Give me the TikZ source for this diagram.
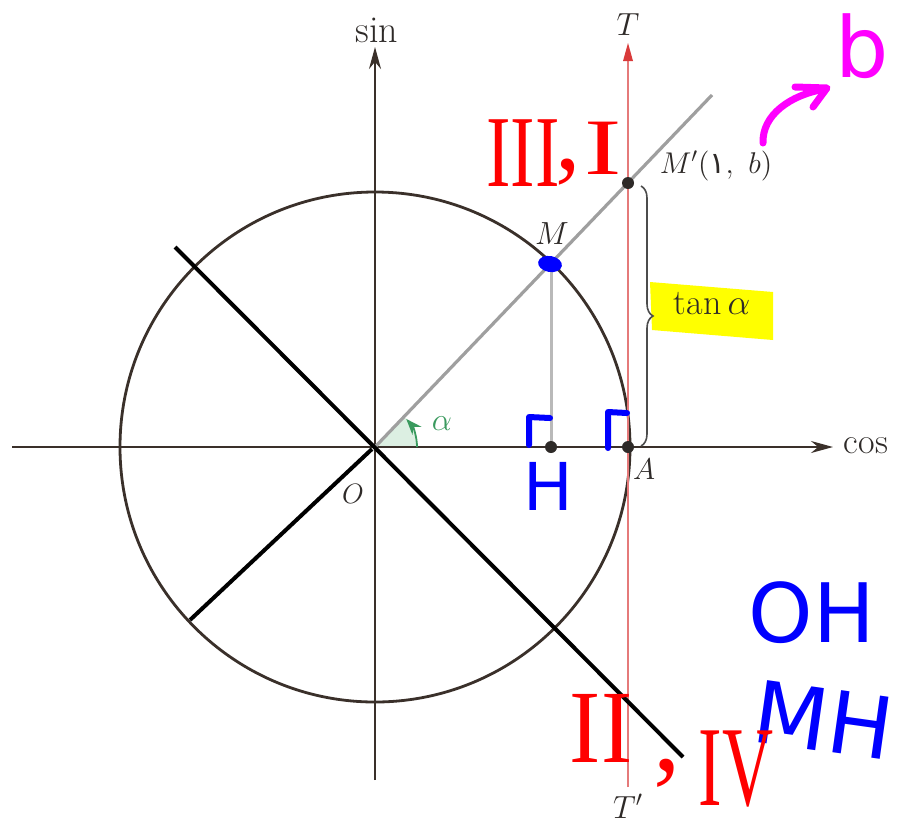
\RequirePackage{fix-cm}
\documentclass[tikz,border=0pt]{standalone}
\usepackage{fontspec}
\usetikzlibrary{arrows.meta,decorations.pathreplacing}
\newfontfamily\handsans{DejaVu Sans}
\newfontfamily\handserif{Liberation Serif}
\newfontfamily\arabicfont[Script=Arabic]{DejaVu Sans}
\definecolor{axiscol}{HTML}{3A302A}
\definecolor{labelcol}{HTML}{2E2A28}
\definecolor{tanred}{HTML}{E57A7A}
\definecolor{tanarrow}{HTML}{D93A3A}
\definecolor{anggreen}{HTML}{3A9A5E}
\definecolor{angfill}{HTML}{DCEFE2}
\definecolor{markblue}{HTML}{0000FF}
\definecolor{markred}{HTML}{FF0000}
\definecolor{markpink}{HTML}{FF00FF}
\definecolor{hiyellow}{HTML}{FFFF00}
\begin{document}
\begin{tikzpicture}[x=0.5pt,y=-0.5pt,
  axisline/.style={draw=axiscol,line width=1pt},
  lbl/.style={text=labelcol,inner sep=0pt},
  hand/.style={inner sep=0pt},
  dot/.style={fill=labelcol},
  bluestroke/.style={draw=markblue,line width=3pt,line cap=round,line join=round}]
\useasboundingbox[fill=white] (0,0) rectangle (897,825);

% key points
\coordinate (O) at (375,447);
\coordinate (xl) at (12,447);
\coordinate (xr) at (833,447);
\coordinate (yb) at (375,780);
\coordinate (yt) at (375,47);
\coordinate (A) at (628,447);
\coordinate (Mp) at (628,183);
\coordinate (M) at (551,263);
\coordinate (H) at (551,447);
\coordinate (Lend) at (712,95);
\coordinate (Tb) at (628,787);
\coordinate (Tt) at (628,43);
\coordinate (b1s) at (175,247);
\coordinate (b1e) at (683,757);
\coordinate (b2s) at (372,449);
\coordinate (b2e) at (190,620);

% angle wedge
\fill[angfill] (O) -- ++(21pt,0pt) arc[start angle=0,end angle=46,radius=21pt] -- cycle;

% axes
\draw[axisline,-{Stealth[length=11pt,width=6pt]}] (xl) -- (xr);
\draw[axisline,-{Stealth[length=11pt,width=6pt]}] (yb) -- (yt);

% unit circle
\draw[draw=axiscol,line width=1.4pt] (O) circle[radius=127.5pt];

% tangent axis
\draw[draw=tanred,line width=1pt] (Tb) -- (628,55);
\fill[tanarrow] (Tt) -- (623,61) -- (633,61) -- cycle;

% terminal side
\draw[draw=gray!75,line width=1.6pt] (O) -- (Lend);
% projection
\draw[draw=gray!55,line width=1.5pt] (M) -- (H);

% black hand lines
\draw[draw=black,line width=2pt] (b1s) -- (b1e);
\draw[draw=black,line width=2pt] (b2s) -- (b2e);

% angle arrow
\draw[draw=anggreen,line width=0.9pt,-{Stealth[length=8pt,width=6pt]}] (O) ++(21pt,0pt) arc[start angle=0,end angle=42,radius=21pt];
\node[lbl,text=anggreen,font=\fontsize{16}{19}\selectfont] (alpha) at (442,424) {$\alpha$};

% highlight and brace
\fill[hiyellow] (650,282) -- (773,292) -- (773,340) -- (652,330) -- cycle;
\draw[draw=gray!60!black,line width=0.8pt,decorate,decoration={brace,amplitude=6pt}] (641,186) -- (641,446);
\node[lbl,font=\fontsize{18}{21}\selectfont] (tanlbl) at (712,304) {$\tan\alpha$};

% points
\fill[dot] (Mp) circle[radius=3pt];
\fill[dot] (A) circle[radius=3pt];
\fill[dot] (H) circle[radius=3pt];
\fill[markblue,rotate around={-10:(550,264)}] (550,264) ellipse[x radius=6pt,y radius=4pt];

% printed labels
\node[lbl,font=\fontsize{19}{22}\selectfont] (sinlbl) at (377,30) {sin};
\node[lbl,font=\fontsize{18}{21}\selectfont] (coslbl) at (866,446) {cos};
\node[lbl,font=\fontsize{16}{19}\selectfont] (Tlbl) at (628,25) {$T$};
\node[lbl,font=\fontsize{16}{19}\selectfont] (Tplbl) at (628,806) {$T'$};
\node[lbl,font=\fontsize{16}{19}\selectfont] (Mlbl) at (552,234) {$M$};
\node[lbl,font=\fontsize{15}{18}\selectfont] (Mplbl) at (716,166) {$M'($\arabicfont ١$,\ b)$};
\node[lbl,font=\fontsize{15}{18}\selectfont] (Albl) at (644,469) {$A$};
\node[lbl,font=\fontsize{14}{17}\selectfont] (Olbl) at (353,494) {$O$};

% handwritten marks
\draw[bluestroke] (529,445) -- (529,417) -- (550,418);
\draw[bluestroke] (608,448) -- (608,412) -- (627,413);
\node[hand,text=markblue,font=\handsans\fontsize{33}{36}\selectfont] (hH) at (548,486) {H};
\node[hand,text=markblue,font=\handsans\fontsize{41}{44}\selectfont] (hOH) at (812,613) {OH};
\node[hand,text=markblue,font=\handsans\fontsize{43}{46}\selectfont,rotate=-8] (hMH) at (824,720) {MH};

\node[hand,text=markred,font=\handserif\fontsize{51}{54}\selectfont] (hIII) at (523,153) {\scalebox{0.72}[1]{III}};
\node[hand,text=markred,font=\handserif\fontsize{51}{54}\selectfont] (hc1) at (568,172) {,};
\node[hand,text=markred,font=\handserif\fontsize{40}{44}\selectfont] (hI) at (603,148) {\scalebox{1.4}[1]{I}};
\node[hand,text=markred,font=\handserif\fontsize{52}{56}\selectfont] (hII) at (601,728) {\scalebox{0.9}[1]{II}};
\node[hand,text=markred,font=\handserif\fontsize{55}{58}\selectfont] (hc2) at (667,773) {,};
\node[hand,text=markred,font=\handserif\fontsize{57}{60}\selectfont] (hIV) at (736,769) {\scalebox{0.62}[1]{IV}};

\node[hand,text=markpink,font=\handsans\fontsize{42}{45}\selectfont] (hb) at (862,46) {b};
\coordinate (pa) at (763,143);
\coordinate (pb) at (825,89);
\draw[draw=markpink,line width=3.5pt,line cap=round,line join=round] (pa) .. controls (762,115) and (790,95) .. (pb);
\draw[draw=markpink,line width=3.5pt,line cap=round,line join=round] (795,87) -- (827,88) -- (813,107);
\end{tikzpicture}
\end{document}
